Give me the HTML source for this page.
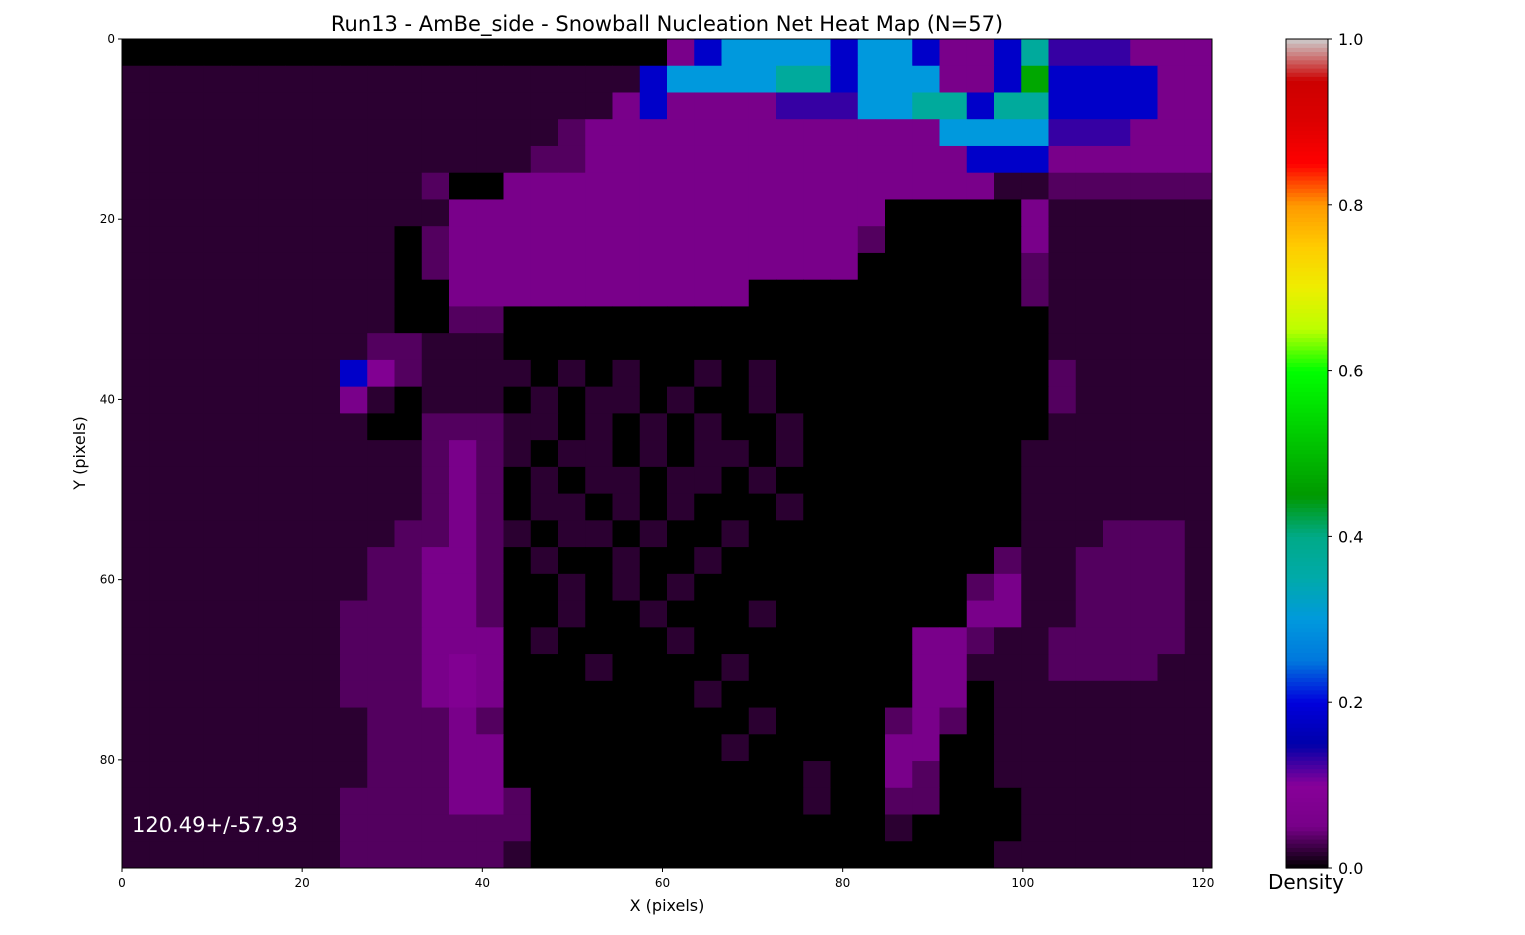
<!DOCTYPE html>
<html><head><meta charset="utf-8"><style>
body{margin:0;background:#fff;font-family:"Liberation Sans","DejaVu Sans",sans-serif;}
svg text{font-family:"DejaVu Sans","Liberation Sans",sans-serif;}
</style></head><body>
<svg id="chart" width="1525" height="930" xmlns="http://www.w3.org/2000/svg">
<text x="667" y="31" text-anchor="middle" font-size="21">Run13 - AmBe_side - Snowball Nucleation Net Heat Map (N=57)</text>
<g id="heat"></g>
<rect x="122" y="39" width="1090" height="829" fill="none" stroke="#000" stroke-width="1"/>
<g id="axes"></g>
<text x="667" y="911" text-anchor="middle" font-size="16">X (pixels)</text>
<text transform="translate(85,453) rotate(-90)" text-anchor="middle" font-size="16">Y (pixels)</text>
<text x="132" y="832" fill="#fff" font-size="21">120.49+/-57.93</text>
<g id="cbar"></g>
<text x="1306" y="889" text-anchor="middle" font-size="20">Density</text>
</svg>
<script>
const NS="http://www.w3.org/2000/svg";
const gridRows=[
"0000000000000000000036777767763368555333",
"1111111111111111111677778867773369666633",
"1111111111111111113633335557788688666633",
"1111111111111111233333333333337777555333",
"1111111111111112233333333333333666333333",
"1111111111120033333333333333333311222222",
"1111111111113333333333333333000003111111",
"1111111111023333333333333332000003111111",
"1111111111023333333333333330000002111111",
"1111111111003333333333300000000002111111",
"1111111111002200000000000000000000111111",
"1111111112211100000000000000000000111111",
"1111111164211110101001010000000000211111",
"1111111131011101011010010000000000211111",
"1111111110022211010101001000000000111111",
"1111111111123210110101101000000001111111",
"1111111111123201011011010000000001111111",
"1111111111123201101010001000000001111111",
"1111111111223210110100100000000001112221",
"1111111112233201001001000000000021122221",
"1111111112233200101010000000000231122221",
"1111111122233200100100010000000331122221",
"1111111122233301000010000000033211222221",
"1111111122234300010000100000033111222211",
"1111111122234300000001000000033011111111",
"1111111112223200000000010000232011111111",
"1111111112223300000000100000330011111111",
"1111111112223300000000000100320011111111",
"1111111122223320000000000100220001111111",
"1111111122222220000000000000100001111111",
"1111111122222210000000000000000011111111"];
const levelChars=["0","1","2","3","4","5","6","7","8","9"];
const levelValues=[0,0.018,0.035,0.055,0.08,0.13,0.18,0.3,0.37,0.47];
const xTicks=[0,20,40,60,80,100,120];
const yTicks=[0,20,40,60,80];
const cbTicks=[0.0,0.2,0.4,0.6,0.8,1.0];
const X0=122,X1=1212,Y0=39,Y1=868,XMAX=121,YMAX=92;
const xs=v=>X0+v*(X1-X0)/XMAX, ys=v=>Y0+v*(Y1-Y0)/YMAX;
const stops=[[0,0,0,0],[.05,.4667,0,.5333],[.1,.5333,0,.6],[.15,0,0,.6667],[.2,0,0,.8667],[.25,0,.4667,.8667],[.3,0,.6,.8667],[.35,0,.6667,.6667],[.4,0,.6667,.5333],[.45,0,.6,0],[.5,0,.7333,0],[.55,0,.8667,0],[.6,0,1,0],[.65,.7333,1,0],[.7,.9333,.9333,0],[.75,1,.8,0],[.8,1,.6,0],[.85,1,0,0],[.9,.8667,0,0],[.95,.8,0,0],[1,.8,.8,.8]];
function cmap(v){v=Math.max(0,Math.min(1,v));for(let i=1;i<stops.length;i++){if(v<=stops[i][0]){const a=stops[i-1],b=stops[i],t=(v-a[0])/(b[0]-a[0]);const c=k=>Math.round(255*(a[k]+t*(b[k]-a[k])));return `rgb(${c(1)},${c(2)},${c(3)})`;}}return "rgb(204,204,204)";}
const heat=document.getElementById('heat');
const nr=gridRows.length,nc=40,cw=XMAX/nc,ch=YMAX/nr;
gridRows.forEach((row,r)=>{for(let c=0;c<nc;c++){const chr=row[Math.min(c,row.length-1)];const val=levelValues[levelChars.indexOf(chr)];
const el=document.createElementNS(NS,'rect');


const x=xs(c*cw),y=ys(r*ch);el.setAttribute('x',x);el.setAttribute('y',y);el.setAttribute('width',xs((c+1)*cw)-x+0.5);el.setAttribute('height',ys((r+1)*ch)-y+0.5);el.setAttribute('fill',cmap(val));heat.appendChild(el);}});
const axes=document.getElementById('axes');
function add(p,tag,attrs,txt){const e=document.createElementNS(NS,tag);for(const k in attrs)e.setAttribute(k,attrs[k]);if(txt!==undefined)e.textContent=txt;p.appendChild(e);return e;}
xTicks.forEach(v=>{const x=xs(v);
const t=add(axes,'line',{x1:x,x2:x,y1:Y1,y2:Y1+4,stroke:'#000'});


const l=add(axes,'text',{x:x,y:Y1+19,'text-anchor':'middle','font-size':12},String(v));

});
yTicks.forEach(v=>{const y=ys(v);
const t=add(axes,'line',{x1:X0-4,x2:X0,y1:y,y2:y,stroke:'#000'});


const l=add(axes,'text',{x:X0-7,y:y+4,'text-anchor':'end','font-size':12},String(v));

});
const cb=document.getElementById('cbar');const CX=1286,CW=42;
for(let i=0;i<200;i++){const y=Y1-(i+1)*(Y1-Y0)/200;
const r=add(cb,'rect',{x:CX,y:y,width:CW,height:(Y1-Y0)/200+0.6,fill:cmap((i+0.5)/200)});

}
add(cb,'rect',{x:CX,y:Y0,width:CW,height:Y1-Y0,fill:'none',stroke:'#000'});
cbTicks.forEach(v=>{const y=Y1-v*(Y1-Y0);
const t=add(cb,'line',{x1:CX+CW,x2:CX+CW+4,y1:y,y2:y,stroke:'#000'});


const l=add(cb,'text',{x:CX+CW+10,y:y+6,'font-size':16},v.toFixed(1));

});
</script>
</body></html>
